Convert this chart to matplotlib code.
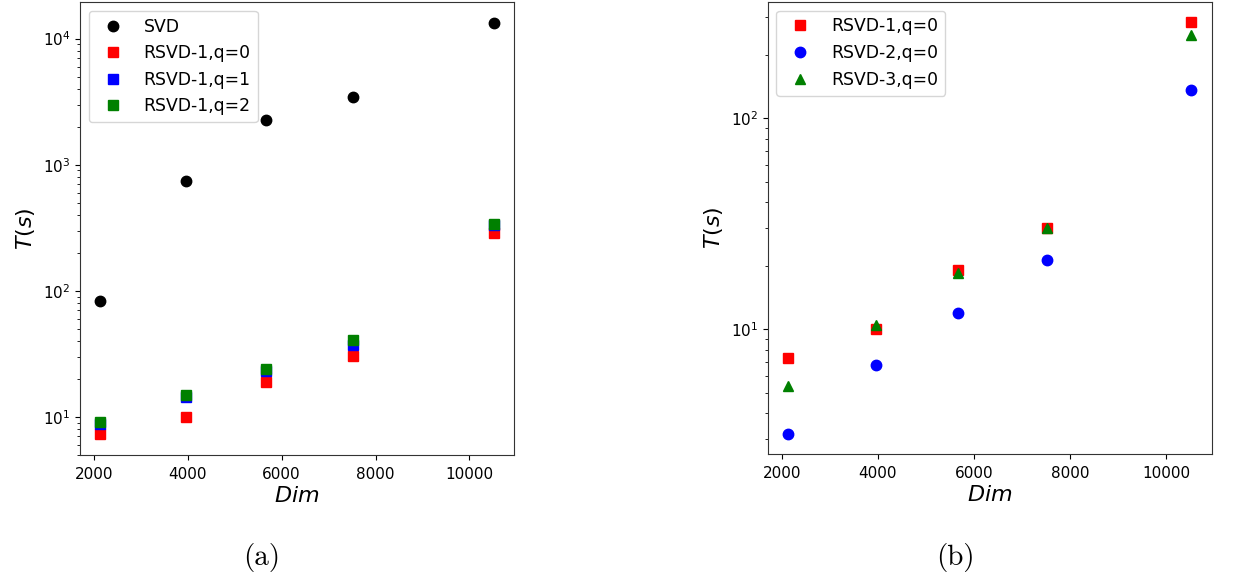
import matplotlib
matplotlib.use("Agg")
import matplotlib.pyplot as plt

# ------------------------------------------------------------------
# Data
# ------------------------------------------------------------------
dims = [2125, 3970, 5670, 7515, 10530]

# panel (a): SVD vs RSVD-1 with power iterations
t_svd = [82.8, 736, 2277, 3420, 13400]
t_rsvd1_q0 = [7.25, 10.0, 19.0, 30.1, 287]
t_rsvd1_q1 = [8.7, 14.3, 23.0, 37.0, 330]
t_rsvd1_q2 = [9.05, 14.8, 23.8, 40.6, 338]

# panel (b): three RSVD variants, q=0
t_b_rsvd1 = [7.29, 10.0, 19.1, 30.2, 284]
t_b_rsvd2 = [3.19, 6.72, 11.9, 21.3, 136]
t_b_rsvd3 = [5.38, 10.4, 18.4, 30.1, 248]

TICK_FS = 11
LEGEND_FS = 12.4
LABEL_FS = 16
MS = 7.5

fig = plt.figure(figsize=(12.38, 5.8), dpi=100)
ax1 = fig.add_axes([0.0646, 0.2155, 0.3506, 0.781])
ax2 = fig.add_axes([0.6201, 0.2167, 0.3586, 0.780])

# --- (a) ---
ax1.plot(dims, t_svd, "o", color="black", ms=MS, label="SVD")
ax1.plot(dims, t_rsvd1_q0, "s", color="red", ms=MS, label="RSVD-1,q=0")
ax1.plot(dims, t_rsvd1_q1, "s", color="blue", ms=MS, label="RSVD-1,q=1")
ax1.plot(dims, t_rsvd1_q2, "s", color="green", ms=MS, label="RSVD-1,q=2")

# --- (b) ---
ax2.plot(dims, t_b_rsvd1, "s", color="red", ms=MS, label="RSVD-1,q=0")
ax2.plot(dims, t_b_rsvd2, "o", color="blue", ms=MS, label="RSVD-2,q=0")
ax2.plot(dims, t_b_rsvd3, "^", color="green", ms=MS, label="RSVD-3,q=0")

for ax in (ax1, ax2):
    ax.set_yscale("log")
    ax.set_xticks([2000, 4000, 6000, 8000, 10000])
    ax.tick_params(axis="both", which="both", labelsize=TICK_FS)
    ax.tick_params(axis="x", pad=5)
    ax.set_xlabel("$Dim$", fontsize=LABEL_FS, labelpad=3)
    ax.set_ylabel("$T(s)$", fontsize=LABEL_FS)
    ax.legend(loc="upper left", fontsize=LEGEND_FS)
    for sp in ax.spines.values():
        sp.set_color("0.2")

fig.text(0.2115, 0.038, "(a)", family="cmr10", fontsize=21, ha="center", va="center")
fig.text(0.7715, 0.038, "(b)", family="cmr10", fontsize=21, ha="center", va="center")

fig.savefig("out.png", dpi=100)
